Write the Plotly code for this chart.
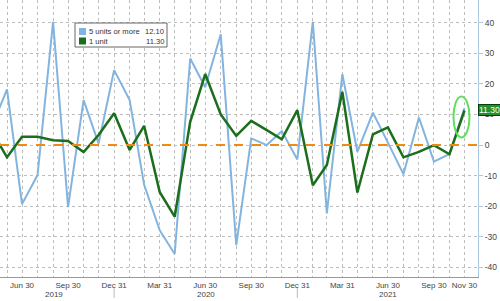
import pandas as pd
import plotly.graph_objects as go

dates = pd.date_range("2019-04-30", "2021-11-30", freq="ME")
five_plus = [5.7, 18.2, -19.3, -9.8, 40.3, -20.3, 14.7, 0.5, 24.5,
             14.7, -13.0, -27.8, -35.6, 28.3, 18.9, 36.2, -32.7, 2.2, 0.0, 4.6, -4.7,
             40.3, -22.3, 23.2, -2.2, 10.6, 0.8, -9.5, 9.0, -5.4, -2.9, 12.1]
one_unit = [4.8, -4.0, 2.7, 2.7, 1.6, 1.3, -2.3, 3.3, 10.4,
            -1.6, 6.3, -15.3, -23.4, 7.6, 23.2, 10.0, 3.0, 7.9, 4.9, 1.9, 11.4,
            -13.1, -6.5, 17.4, -15.5, 3.5, 5.8, -4.0, -2.2, 0.0, -3.0, 11.3]
series_names = ["5 units or more", "1 unit"]
last_labels = ["12.10", "11.30"]
y_ticks = [40, 30, 20, 10, 0, -10, -20, -30, -40]
quarter_labels = {"2019-06-30": "Jun 30", "2019-09-30": "Sep 30", "2019-12-31": "Dec 31",
                  "2020-03-31": "Mar 31", "2020-06-30": "Jun 30", "2020-09-30": "Sep 30",
                  "2020-12-31": "Dec 31", "2021-03-31": "Mar 31", "2021-06-30": "Jun 30",
                  "2021-09-30": "Sep 30", "2021-11-30": "Nov 30"}
years = ["2019", "2020", "2021"]
year_centers = ["2019-09-01", "2020-07-01", "2021-06-30"]
year_breaks = ["2019-12-31", "2020-12-31"]

BLUE = "#82b4e0"
GREEN = "#1b6e1b"
FONT = "Liberation Sans"
x_range = ["2019-05-17", "2021-12-27"]

fig = go.Figure()
fig.add_trace(go.Scatter(x=dates, y=five_plus, mode="lines", name=series_names[0],
                         line=dict(color=BLUE, width=2)))
fig.add_trace(go.Scatter(x=dates, y=one_unit, mode="lines", name=series_names[1],
                         line=dict(color=GREEN, width=2.5)))

tickvals = list(dates)
ticktext = [quarter_labels.get(d.strftime("%Y-%m-%d"), "") for d in dates]

H = 277.0
W = 478.0
def px(x):
    return x / W
def py(y):
    return 1 - y / H

shapes = [
    dict(type="line", xref="paper", x0=0, x1=1, yref="y", y0=0, y1=0,
         line=dict(color="#ef8a17", width=2, dash="dash"), layer="above"),
]
for yb in year_breaks:
    shapes.append(dict(type="line", xref="x", x0=yb, x1=yb, yref="paper", y0=py(288), y1=py(298),
                       line=dict(color="#bbbbbb", width=1)))
# ellipse highlighting the last point
shapes.append(dict(type="circle", xref="x", yref="y", x0="2021-11-08", x1="2021-12-10",
                   y0=2.5, y1=15.9, line=dict(color="#5ee05e", width=2)))
# legend box
shapes.append(dict(type="rect", xref="paper", yref="paper", x0=px(75), x1=px(167),
                   y0=py(47), y1=py(23), fillcolor="white", line=dict(color="#666666", width=1)))
annotations = []
for i, (name, col, val) in enumerate(zip(series_names, [BLUE, GREEN], last_labels)):
    cy = 31.5 + 9.5 * i
    shapes.append(dict(type="rect", xref="paper", yref="paper", x0=px(79), x1=px(86),
                       y0=py(cy + 3.5), y1=py(cy - 3.5), fillcolor=col, line=dict(width=0)))
    annotations.append(dict(xref="paper", yref="paper", x=px(86.5), y=py(cy), text=name,
                            showarrow=False, xanchor="left", yanchor="middle",
                            font=dict(size=7.6, color="#333333", family=FONT)))
    annotations.append(dict(xref="paper", yref="paper", x=px(166), y=py(cy), text=val,
                            showarrow=False, xanchor="right", yanchor="middle",
                            font=dict(size=7.6, color="#333333", family=FONT)))

for yr, xc in zip(years, year_centers):
    annotations.append(dict(xref="x", yref="paper", x=xc, y=py(294), text=yr, showarrow=False,
                            xanchor="center", yanchor="middle",
                            font=dict(size=8, color="#444444", family=FONT)))

annotations.append(dict(xref="paper", yref="y", x=1.0, y=one_unit[-1], text=last_labels[1],
                        showarrow=False, xanchor="left", yanchor="middle", xshift=0,
                        bgcolor="#23912a", bordercolor="#0d3b10", borderwidth=1, borderpad=0,
                        font=dict(size=8.5, color="white", family=FONT)))

fig.update_layout(
    width=500, height=301,
    margin=dict(l=0, r=22, t=0, b=24, autoexpand=False),
    paper_bgcolor="white", plot_bgcolor="white",
    showlegend=False,
    shapes=shapes, annotations=annotations,
    xaxis=dict(type="date", range=x_range, tickvals=tickvals, ticktext=ticktext,
               tickangle=0, automargin=False,
               showgrid=True, gridcolor="#bdbdbd", griddash="dot", gridwidth=1,
               showline=True, linecolor="#999999", linewidth=1, ticks="",
               tickfont=dict(size=8, color="#444444", family=FONT),
               zeroline=False),
    yaxis=dict(side="right", range=[-43.1, 47.4], tickvals=y_ticks, automargin=False,
               ticktext=[str(v) for v in y_ticks],
               showgrid=True, gridcolor="#bdbdbd", griddash="dot", gridwidth=1,
               showline=True, linecolor="#a9c8e6", linewidth=1,
               ticks="outside", ticklen=4, tickcolor="#a9c8e6",
               tickfont=dict(size=8.5, color="#444444", family=FONT),
               zeroline=False),
)

fig.write_html("out.html")
